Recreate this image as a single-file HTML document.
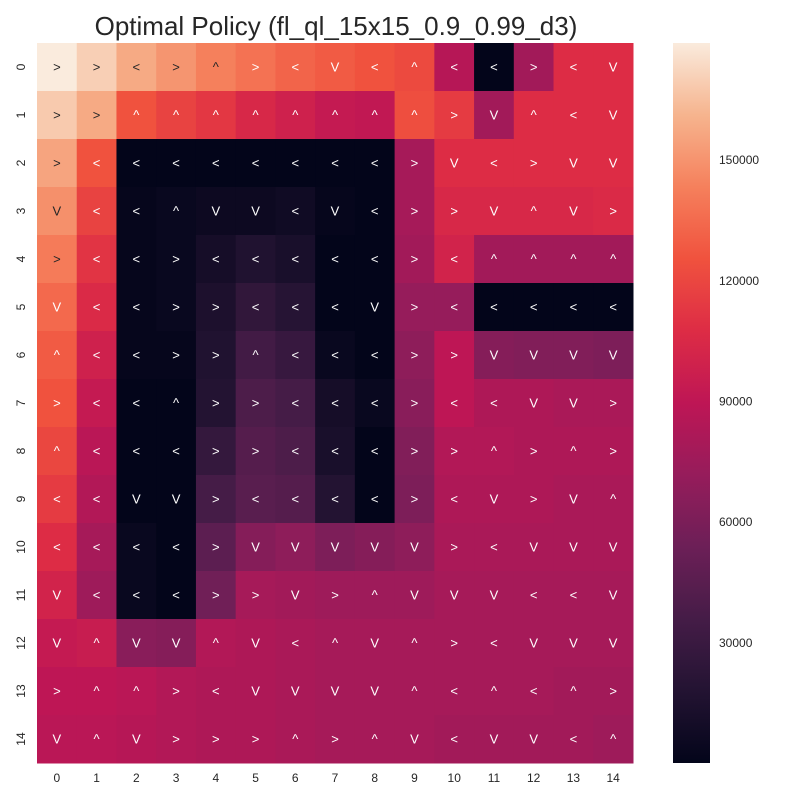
<!DOCTYPE html>
<html><head><meta charset="utf-8"><style>
body{margin:0;background:#fff;}
svg{display:block;font-family:"Liberation Sans",Arial,sans-serif;}
</style></head><body>
<svg id="chart" width="800" height="800">
<text x="336" y="35" text-anchor="middle" font-size="26" fill="#262626">Optimal Policy (fl_ql_15x15_0.9_0.99_d3)</text>
<g id="cells"></g>
<g id="xt"></g>
<g id="yt"></g>
<defs><linearGradient id="cbg" x1="0" y1="1" x2="0" y2="0"></linearGradient></defs>
<rect x="673" y="43" width="37" height="720" fill="url(#cbg)"></rect>
<g id="cbt"></g>
</svg>
<script>
// values as fraction-of-max (max = 179000)
const vmax = 179000;
const fracs = [
[1.0,0.95,0.88,0.84,0.8,0.77,0.74,0.72,0.70,0.68,0.48,0.0,0.43,0.6,0.6],
[0.94,0.88,0.70,0.66,0.63,0.58,0.55,0.52,0.51,0.69,0.64,0.43,0.6,0.6,0.6],
[0.87,0.70,0,0,0,0,0,0,0,0.44,0.6,0.6,0.6,0.6,0.6],
[0.83,0.66,0.01,0.02,0.03,0.03,0.04,0.01,0.0,0.44,0.58,0.58,0.58,0.58,0.59],
[0.79,0.62,0.01,0.02,0.06,0.09,0.07,0,0,0.43,0.56,0.43,0.43,0.43,0.43],
[0.75,0.59,0.01,0.02,0.08,0.14,0.11,0,0,0.40,0.40,0,0,0,0],
[0.72,0.55,0.01,0.01,0.09,0.19,0.16,0.02,0.0,0.38,0.50,0.36,0.35,0.35,0.34],
[0.70,0.52,0.0,0.0,0.10,0.22,0.20,0.06,0.02,0.37,0.50,0.46,0.46,0.45,0.45],
[0.67,0.49,0,0,0.15,0.24,0.22,0.07,0.0,0.35,0.47,0.47,0.46,0.46,0.46],
[0.64,0.47,0,0,0.2,0.25,0.24,0.10,0,0.34,0.46,0.46,0.46,0.45,0.45],
[0.60,0.44,0.02,0.0,0.26,0.36,0.38,0.34,0.36,0.38,0.45,0.45,0.45,0.45,0.45],
[0.56,0.42,0.02,0.0,0.31,0.44,0.43,0.42,0.42,0.42,0.44,0.44,0.44,0.44,0.44],
[0.52,0.53,0.37,0.36,0.47,0.46,0.45,0.44,0.44,0.44,0.44,0.44,0.44,0.44,0.44],
[0.50,0.50,0.49,0.47,0.46,0.46,0.45,0.44,0.44,0.44,0.44,0.44,0.44,0.43,0.43],
[0.49,0.49,0.48,0.47,0.46,0.46,0.45,0.44,0.44,0.44,0.43,0.43,0.43,0.43,0.42]
];
const arrows = [
"> > < > ^ > < V < ^ < < > < V",
"> > ^ ^ ^ ^ ^ ^ ^ ^ > V ^ < V",
"> < < < < < < < < > V < > V V",
"V < < ^ V V < V < > > V ^ V >",
"> < < > < < < < < > < ^ ^ ^ ^",
"V < < > > < < < V > < < < < <",
"^ < < > > ^ < < < > > V V V V",
"> < < ^ > > < < < > < < V V >",
"^ < < < > > < < < > > ^ > ^ >",
"< < V V > < < < < > < V > V ^",
"< < < < > V V V V V > < V V V",
"V < < < > > V > ^ V V V < < V",
"V ^ V V ^ V < ^ V ^ > < V V V",
"> ^ ^ > < V V V V ^ < ^ < ^ >",
"V ^ V > > > ^ > ^ V < V V < ^"
];
const rowLabels = ["0","1","2","3","4","5","6","7","8","9","10","11","12","13","14"];
const colLabels = ["0","1","2","3","4","5","6","7","8","9","10","11","12","13","14"];
const cbTicks = [30000,60000,90000,120000,150000];

const stops=[[0,3,5,26],[0.1,35,19,50],[0.2,69,28,71],[0.3,108,31,87],[0.4,150,28,91],[0.5,190,22,85],[0.6,221,44,69],[0.7,240,82,62],[0.8,245,128,92],[0.9,246,180,142],[1,250,235,221]];
function rocket(t){t=Math.max(0,Math.min(1,t));for(let i=1;i<stops.length;i++){if(t<=stops[i][0]){const a=stops[i-1],b=stops[i];const f=(t-a[0])/(b[0]-a[0]);return `rgb(${[1,2,3].map(k=>Math.round(a[k]+(b[k]-a[k])*f)).join(',')})`;}}return 'rgb(250,235,221)';}
const NS="http://www.w3.org/2000/svg";
const X0=37,Y0=43,W=596,H=720,n=15,cw=W/n,ch=H/n;
const xS=c=>X0+c*cw, yS=r=>Y0+r*ch;
const cbY=v=>763-v/vmax*720;
const cells=document.getElementById('cells');
for(let r=0;r<n;r++){const ar=arrows[r].split(' ');for(let c=0;c<n;c++){
  const v=fracs[r][c]*vmax, t=v/vmax;
  const rect=document.createElementNS(NS,'rect');
  rect.setAttribute('x',xS(c));rect.setAttribute('y',yS(r));rect.setAttribute('width',cw+0.5);rect.setAttribute('height',ch+0.5);rect.setAttribute('fill',rocket(t));
  
  
  cells.appendChild(rect);
  const tx=document.createElementNS(NS,'text');
  tx.setAttribute('x',xS(c)+cw/2);tx.setAttribute('y',yS(r)+ch/2+4.5);tx.setAttribute('text-anchor','middle');tx.setAttribute('font-size','13');
  tx.setAttribute('fill',t>0.78?'#262626':'#ffffff');tx.textContent=ar[c];
  
  
  cells.appendChild(tx);
}}
const xt=document.getElementById('xt');
colLabels.forEach((l,c)=>{const t=document.createElementNS(NS,'text');t.setAttribute('x',xS(c)+cw/2);t.setAttribute('y',782);t.setAttribute('text-anchor','middle');t.setAttribute('font-size','12');t.setAttribute('fill','#262626');t.textContent=l;


xt.appendChild(t);});
const yt=document.getElementById('yt');
rowLabels.forEach((l,r)=>{const t=document.createElementNS(NS,'text');const cx=25,cy=yS(r)+ch/2;t.setAttribute('x',cx);t.setAttribute('y',cy);t.setAttribute('text-anchor','middle');t.setAttribute('font-size','12');t.setAttribute('fill','#262626');t.setAttribute('transform',`rotate(-90 ${cx} ${cy})`);t.textContent=l;


yt.appendChild(t);});
const g=document.getElementById('cbg');
for(let i=0;i<=20;i++){const s=document.createElementNS(NS,'stop');s.setAttribute('offset',i/20);s.setAttribute('stop-color',rocket(i/20));g.appendChild(s);}
const cbt=document.getElementById('cbt');
cbTicks.forEach(v=>{const t=document.createElementNS(NS,'text');t.setAttribute('x',719);t.setAttribute('y',cbY(v)+4.5);t.setAttribute('font-size','12');t.setAttribute('fill','#262626');t.textContent=v;


cbt.appendChild(t);});
</script>
</body></html>
